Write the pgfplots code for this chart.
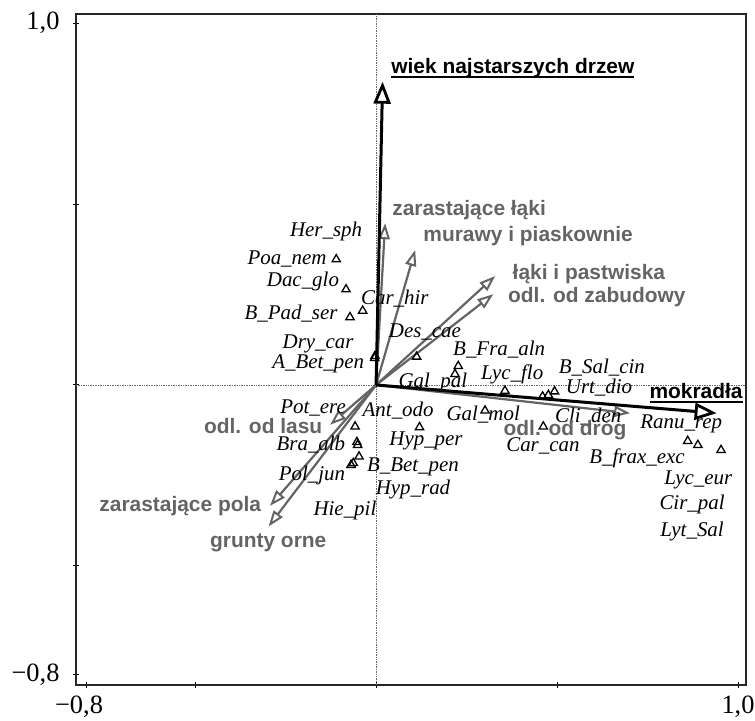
\documentclass[border=0pt]{standalone}
\usepackage{pgfplots}
\pgfplotsset{compat=1.18}
\usepackage{fontspec}
\setmainfont{Liberation Serif}
\newfontfamily\sansb[BoldFont={Liberation Sans Bold}]{Liberation Sans}
\usetikzlibrary{arrows.meta}
\definecolor{envgray}{HTML}{646464}
\newcommand\ul[1]{\setbox0\hbox{#1}\rlap{\vrule width\wd0 height -2.5bp depth 4.6bp}\box0}
\tikzset{
  species/.style={font=\fontsize{21}{22}\selectfont\itshape, inner sep=0pt, anchor=center},
  env/.style={font=\fontsize{21}{22}\selectfont\sansb\bfseries, inner sep=0pt, anchor=center, text=envgray},
  envk/.style={font=\fontsize{21}{22}\selectfont\sansb\bfseries, inner sep=0pt, anchor=center, text=black},
}
\begin{document}
\begin{tikzpicture}
\path[use as bounding box] (-76bp,-36bp) rectangle (679bp,685bp);
\begin{axis}[
  scale only axis, width=670bp, height=671bp,
  xmin=-0.829, xmax=1.022, ymin=-0.829, ymax=1.025,
  xtick={-0.8,-0.5,0,0.5,1}, ytick={-0.8,-0.5,0,0.5,1},
  xticklabels={{\llap{−}0,8},,,,{1,0}},
  yticklabels={{−0,8},,,,{1,0}},
  tick pos=left, tick align=center, major tick length=6bp,
  every tick/.style={black, line width=1bp},
  axis line style={line width=1.3bp, black!85},
  ticklabel style={font=\fontsize{26.5}{28}\selectfont},
  xticklabel style={anchor=base, inner sep=0pt, yshift=-25bp},
  yticklabel style={xshift=-10bp},
  clip=false,
]
% zero lines
\addplot[black!60, densely dotted, line width=0.7bp] coordinates {(0,-0.829) (0,1.025)};
\addplot[black!60, densely dotted, line width=0.7bp] coordinates {(-0.829,0) (1.022,0)};

% grey environmental arrows
\addplot[envgray, line width=2.2bp, -{Triangle[open, length=16bp, width=11bp, line width=2bp]}] coordinates {(0,0) (0.025,0.447)};
\addplot[envgray, line width=2.2bp, -{Triangle[open, length=16bp, width=11bp, line width=2bp]}] coordinates {(0,0) (0.108,0.373)};
\addplot[envgray, line width=2.2bp, -{Triangle[open, length=16bp, width=11bp, line width=2bp]}] coordinates {(0,0) (0.329,0.301)};
\addplot[envgray, line width=2.2bp, -{Triangle[open, length=16bp, width=11bp, line width=2bp]}] coordinates {(0,0) (0.324,0.251)};
\addplot[envgray, line width=2.2bp, -{Triangle[open, length=16bp, width=11bp, line width=2bp]}] coordinates {(0,0) (0.702,-0.078)};
\addplot[envgray, line width=2.2bp, -{Triangle[open, length=16bp, width=11bp, line width=2bp]}] coordinates {(0,0) (-0.127,-0.110)};
\addplot[envgray, line width=2.2bp, -{Triangle[open, length=16bp, width=11bp, line width=2bp]}] coordinates {(0,0) (-0.293,-0.334)};
\addplot[envgray, line width=2.2bp, -{Triangle[open, length=16bp, width=11bp, line width=2bp]}] coordinates {(0,0) (-0.297,-0.391)};

% black arrows
\addplot[black, line width=3bp, -{Triangle[open, length=22bp, width=17bp, line width=2.8bp]}] coordinates {(0,0) (0.018,0.838)};
\addplot[black, line width=3bp, -{Triangle[open, length=22bp, width=17bp, line width=2.8bp]}] coordinates {(0,0) (0.941,-0.078)};

% species
\addplot[only marks, mark=triangle, mark size=4.8bp, mark options={black, line width=1.3bp, fill=none}] coordinates {
(-0.110,0.347) (-0.083,0.264) (-0.037,0.205) (-0.072,0.187)
(-0.003,0.080) (-0.004,0.074)
(0.112,0.078) (0.227,0.052) (0.218,0.030) (0.356,-0.016)
(0.460,-0.032) (0.476,-0.028) (0.493,-0.018)
(0.301,-0.071) (0.462,-0.115) (0.120,-0.117)
(0.861,-0.155) (0.889,-0.166) (0.953,-0.180)
(-0.058,-0.115) (-0.053,-0.158) (-0.051,-0.166) (-0.047,-0.198)
(-0.063,-0.216) (-0.069,-0.221)
};

% species labels
\node[species] at (axis cs:-0.138,0.423) {Her\_sph};
\node[species] at (axis cs:-0.246,0.348) {Poa\_nem};
\node[species] at (axis cs:-0.202,0.285) {Dac\_glo};
\node[species] at (axis cs:0.052,0.240) {Car\_hir};
\node[species] at (axis cs:-0.235,0.196) {B\_Pad\_ser};
\node[species] at (axis cs:-0.160,0.113) {Dry\_car};
\node[species] at (axis cs:-0.160,0.058) {A\_Bet\_pen};
\node[species] at (axis cs:0.135,0.146) {Des\_cae};
\node[species] at (axis cs:0.340,0.097) {B\_Fra\_aln};
\node[species] at (axis cs:0.157,0.006) {Gal\_pal};
\node[species] at (axis cs:0.376,0.028) {Lyc\_flo};
\node[species] at (axis cs:0.624,0.047) {B\_Sal\_cin};
\node[species] at (axis cs:0.616,-0.008) {Urt\_dio};
\node[species] at (axis cs:0.061,-0.072) {Ant\_odo};
\node[species] at (axis cs:0.296,-0.083) {Gal\_mol};
\node[species] at (axis cs:0.586,-0.086) {Cli\_den};
\node[species] at (axis cs:0.843,-0.108) {Ranu\_rep};
\node[species] at (axis cs:0.138,-0.155) {Hyp\_per};
\node[species] at (axis cs:0.461,-0.169) {Car\_can};
\node[species] at (axis cs:0.721,-0.202) {B\_frax\_exc};
\node[species] at (axis cs:0.102,-0.227) {B\_Bet\_pen};
\node[species] at (axis cs:0.102,-0.290) {Hyp\_rad};
\node[species] at (axis cs:0.890,-0.262) {Lyc\_eur};
\node[species] at (axis cs:0.873,-0.331) {Cir\_pal};
\node[species] at (axis cs:0.873,-0.406) {Lyt\_Sal};
\node[species] at (axis cs:-0.174,-0.064) {Pot\_ere};
\node[species] at (axis cs:-0.180,-0.166) {Bra\_alb};
\node[species] at (axis cs:-0.177,-0.249) {Pol\_jun};
\node[species] at (axis cs:-0.086,-0.348) {Hie\_pil};

% environmental labels
\node[envk] at (axis cs:0.378,0.876) {\ul{wiek najstarszych drzew}};
\node[env] at (axis cs:0.257,0.483) {zarastające łąki};
\node[env] at (axis cs:0.420,0.412) {murawy i piaskownie};
\node[env] at (axis cs:0.588,0.307) {łąki i pastwiska};
\node[env] at (axis cs:0.610,0.243) {odl. od zabudowy};
\node[envk] at (axis cs:0.884,-0.022) {\ul{mokradła}};
\node[env] at (axis cs:0.522,-0.124) {odl. od dróg};
\node[env] at (axis cs:-0.312,-0.113) {odl. od lasu};
\node[env] at (axis cs:-0.541,-0.334) {zarastające pola};
\node[env] at (axis cs:-0.298,-0.436) {grunty orne};
\end{axis}
\end{tikzpicture}
\end{document}
